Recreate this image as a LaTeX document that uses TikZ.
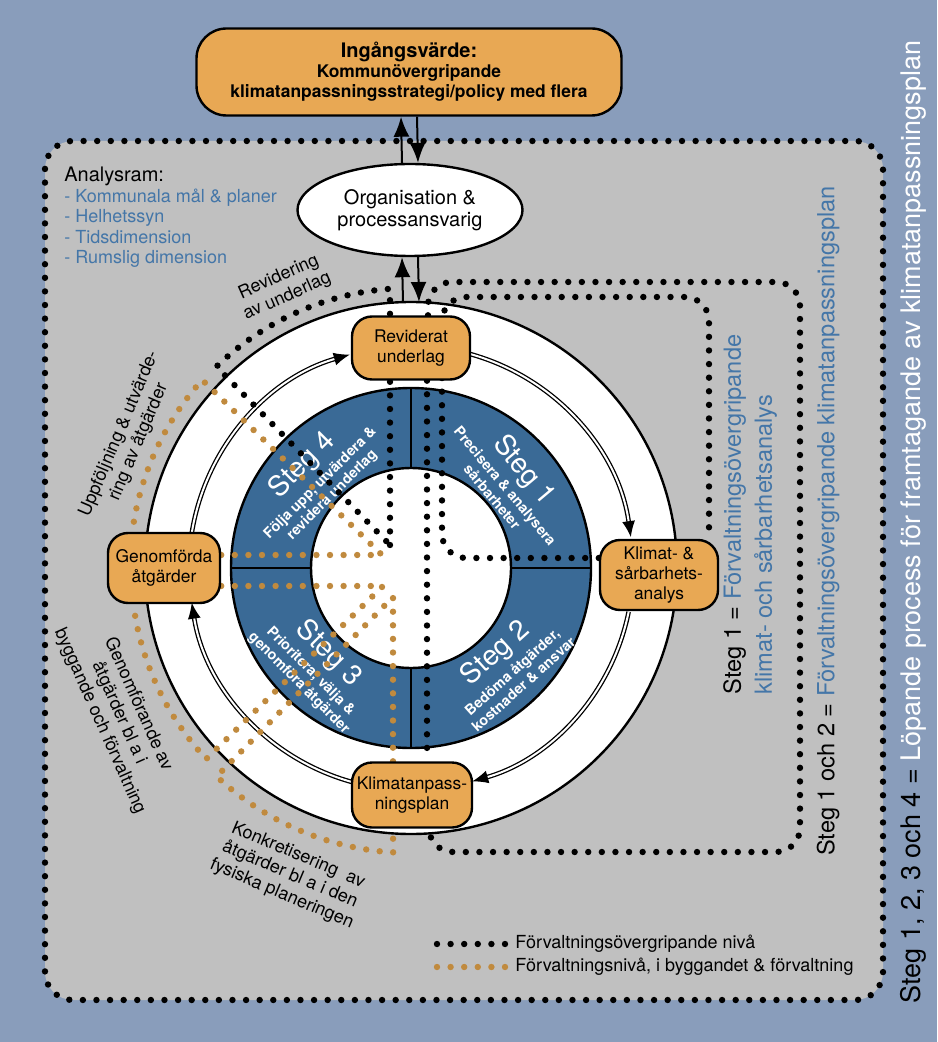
\documentclass[tikz,border=0pt]{standalone}
\usepackage{fontspec}
\setmainfont{TeX Gyre Heros}
\usetikzlibrary{shapes.geometric,arrows.meta,positioning}

\definecolor{bgblue}{RGB}{137,157,187}
\definecolor{panelgrey}{RGB}{192,192,192}
\definecolor{boxorange}{RGB}{232,168,84}
\definecolor{ringblue}{RGB}{58,106,150}
\definecolor{textblue}{RGB}{68,118,168}
\definecolor{dotbrown}{RGB}{192,138,62}

\newcommand{\stegfont}{\mdseries\fontsize{14}{15}\selectfont}
\newcommand{\subfont}{\bfseries\fontsize{7.2}{8.4}\selectfont}

\pgfdeclarelayer{back}
\pgfdeclarelayer{ring}
\pgfdeclarelayer{dots}
\pgfsetlayers{back,ring,dots,main}

\begin{document}
\begin{tikzpicture}[x=0.5pt,y=-0.5pt]
    \tikzstyle{every node} = [font=\fontsize{8.7}{10}\selectfont]
    \tikzstyle{stepbox} = [draw, line width=1.2pt, fill=boxorange, rounded corners=10pt, align=center, inner sep=0pt]
    \tikzstyle{blackdots} = [line width=3.2pt, line cap=round, dash pattern=on 0pt off 6.8pt]
    \tikzstyle{browndots} = [blackdots, draw=dotbrown]
    \tikzstyle{cyclearrow} = [double, double distance=1pt, line width=0.65pt, -{Latex[length=8pt,width=6.5pt]}]
    \tikzstyle{feed} = [line width=1pt, -{Latex[length=10pt,width=8pt]}]
    \tikzstyle{outerlabel} = [font=\fontsize{9}{10.5}\selectfont, align=center]
    \tikzstyle{steg} = [text=white, align=center, font=\subfont]
    \tikzstyle{sidetext} = [rotate=90, align=center, inner sep=0pt, font=\fontsize{11.8}{15.5}\selectfont]

    % frame
    \useasboundingbox (0,0) rectangle (937,1042);
    \begin{pgfonlayer}{back}
      \fill[bgblue] (0,0) rectangle (937,1042);
      \filldraw[fill=panelgrey, blackdots, rounded corners=14pt] (45,141) rectangle (883,1000);
    \end{pgfonlayer}

    % place nodes
    \coordinate (hub) at (411,568);
    \coordinate (rim) at (411,302);
    \node[stepbox, minimum width=212.5pt, minimum height=43.5pt, rounded corners=15pt, font=\bfseries\fontsize{8.7}{10}\selectfont] (input) at (409,72)
      {{\fontsize{10}{10}\selectfont Ingångsvärde:}\\Kommunövergripande\\klimatanpassningsstrategi/policy med flera};
    \node[draw, ellipse, fill=white, line width=1.2pt, minimum width=112.5pt, minimum height=46pt, inner sep=0pt, align=center, font=\fontsize{10}{11}\selectfont] (org) at (410,210) {Organisation \&\\processansvarig};
    \node[stepbox, minimum width=59pt, minimum height=31.5pt] (rev) at (411,348) {Reviderat\\underlag};
    \node[stepbox, minimum width=59pt, minimum height=35pt] (klimat) at (659,575) {Klimat- \&\\sårbarhets-\\analys};
    \node[stepbox, minimum width=60pt, minimum height=32.5pt] (plan) at (412,795) {Klimatanpass-\\ningsplan};
    \node[stepbox, minimum width=56pt, minimum height=35pt] (genom) at (164,568) {Genomförda\\åtgärder};

    % texts
    \node[anchor=north west, align=left, inner sep=0pt, font=\fontsize{9}{10.25}\selectfont] (analysis) at (64,167)
      {{\fontsize{10}{10.25}\selectfont Analysram:}\\
       \textcolor{textblue}{- Kommunala mål \& planer}\\
       \textcolor{textblue}{- Helhetssyn}\\
       \textcolor{textblue}{- Tidsdimension}\\
       \textcolor{textblue}{- Rumslig dimension}};
    \node[outerlabel, rotate=24] (revlabel) at (283,287) {Revidering\\av underlag};
    \node[outerlabel, rotate=67] (followlabel) at (129,438) {Uppföljning \& utvärde-\\ring av åtgärder};
    \node[outerlabel, rotate=-66] (implabel) at (119,713) {Genomförande av\\åtgärder bl a i\\byggande och förvaltning};
    \node[outerlabel, rotate=-23] (concretelabel) at (290,875) {Konkretisering~ av\\åtgärder bl a i den\\fysiska planeringen};
    \node[sidetext, anchor=west, align=left] (stage1) at (750,695)
      {Steg 1 = \textcolor{textblue}{Förvaltningsövergripande}\\\textcolor{textblue}{klimat- och sårbarhetsanalys}};
    \node[sidetext] (stage12) at (828,521)
      {Steg 1 och 2 = \textcolor{textblue}{Förvaltningsövergripande klimatanpassningsplan}};
    \node[sidetext, font=\fontsize{13.5}{15}\selectfont] (stage1234) at (913,522)
      {Steg 1, 2, 3 och 4 = \textcolor{white}{Löpande process för framtagande av klimatanpassningsplan}};

    % legend
    \node[anchor=west, inner sep=0pt, font=\fontsize{9}{10}\selectfont] (keyblack) at (515,944) {Förvaltningsövergripande nivå};
    \node[anchor=west, inner sep=0pt, font=\fontsize{9}{10}\selectfont] (keybrown) at (515,967) {Förvaltningsnivå, i byggandet \& förvaltning};
    \draw[blackdots] ([xshift=-5pt]keyblack.west) -- ++(-72,0);
    \draw[browndots] ([xshift=-5pt]keybrown.west) -- ++(-72,0);

    % Connections
    \draw[feed] ([xshift=-4pt]org.north) -- ([xshift=-4pt]input.south);
    \draw[feed] ([xshift=4pt]input.south) -- ([xshift=4pt]org.north);
    \draw[feed] ([xshift=-4pt]rim) -- ([xshift=-4pt]org.south);
    \draw[feed] ([xshift=4pt]org.south) -- ([xshift=4pt]rim);

    % wheel
    \begin{pgfonlayer}{ring}
      \draw[fill=white, line width=1.2pt] (hub) circle[radius=266];
      \draw[fill=ringblue, line width=1.2pt] (hub) circle[radius=180];
      \draw[line width=1.2pt] ([yshift=90pt]hub) -- ([yshift=-90pt]hub);
      \draw[line width=1.2pt] ([xshift=-90pt]hub) -- ([xshift=90pt]hub);
      \draw[fill=white, line width=1.2pt] (hub) circle[radius=100];
      \node[steg, rotate=-50] (steg1) at (511,481) {{\stegfont Steg 1}\\[1.5pt]Precisera \& analysera\\sårbarheter};
      \node[steg, rotate=42] (steg2) at (507,666) {{\stegfont Steg 2}\\[1.5pt]Bedöma åtgärder,\\kostnader \& ansvar};
      \node[steg, rotate=-45] (steg3) at (316,666) {{\stegfont Steg 3}\\[1.5pt]Prioritera, välja \&\\genomföra åtgärder};
      \node[steg, rotate=45] (steg4) at (315,478) {{\stegfont Steg 4}\\[1.5pt]Följa upp, utvärdera \&\\revidera underlag};
      \draw[cyclearrow] ([shift={(-173:222)}]hub) arc[start angle=-173, end angle=-106, radius=222];
      \draw[cyclearrow] ([shift={(-74.5:222)}]hub) arc[start angle=-74.5, end angle=-8, radius=222];
      \draw[cyclearrow] ([shift={(11.4:222)}]hub) arc[start angle=11.4, end angle=74, radius=222];
      \draw[cyclearrow] ([shift={(105:222)}]hub) arc[start angle=105, end angle=171, radius=222];
    \end{pgfonlayer}

    % dotted routes
    \begin{pgfonlayer}{dots}
      % Steg 1 och 2
      \draw[blackdots, rounded corners=12pt] ([xshift=8.5pt]rev.north) -- (428,282) -- (800,282) -- (800,852) -- (429,852) -- ([xshift=8.5pt]plan.south);
      \draw[blackdots] ([xshift=8pt]rev.south) -- ([xshift=7.5pt]plan.north);
      % Steg 1
      \draw[blackdots, rounded corners=12pt] ([yshift=8.5pt]klimat.west) -- (442,558) -- (442,297) -- (709,297) -- ([xshift=25pt]klimat.north);
      % Steg 4
      \draw[blackdots] (390,545) -- ([shift={(-94.3:280)}]hub) arc[start angle=-94.3, end angle=-134, radius=280] -- cycle;
      \draw[browndots] ([yshift=6.5pt]genom.east) -- (382,555) -- ([shift={(-138:281)}]hub) arc[start angle=-138, end angle=-172, radius=281];
      % Steg 3
      \draw[browndots] ([yshift=-9pt]genom.east) -- (383,586) -- ([shift={(137:280)}]hub) arc[start angle=137, end angle=171, radius=280];
      \draw[browndots] ([xshift=-9.5pt]plan.north) -- (393,597) -- ([shift={(133:285)}]hub) arc[start angle=133, end angle=93.6, radius=285] -- ([xshift=-9.5pt]plan.south);
    \end{pgfonlayer}
\end{tikzpicture}
\end{document}
